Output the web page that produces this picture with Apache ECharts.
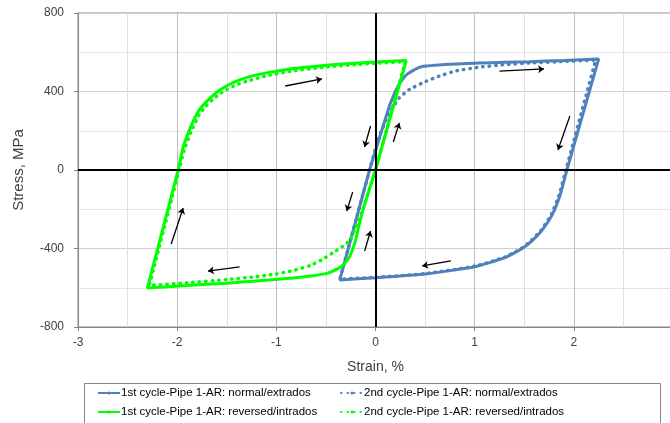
<!DOCTYPE html>
<html>
<head>
<meta charset="utf-8">
<script src="https://cdn.jsdelivr.net/npm/echarts@6/dist/echarts.min.js"></script>
<style>
html, body { margin: 0; padding: 0; background: #fff; }
#d1 { width: 670px; height: 423px; }
</style>
</head>
<body>
<div id="d1"></div>
<script>
var chart = echarts.init(document.getElementById('d1'));

var names = [
    '1st cycle-Pipe 1-AR: normal/extrados',
    '2nd cycle-Pipe 1-AR: normal/extrados',
    '1st cycle-Pipe 1-AR: reversed/intrados',
    '2nd cycle-Pipe 1-AR: reversed/intrados'
];

// strain %, stress MPa
var blue1 = [
    [-0.06, 0], [0.05, 180], [0.15, 340], [0.24, 440], [0.31, 484], [0.39, 510], [0.47, 527],
    [0.6, 534], [0.81, 540], [1.05, 545], [1.3, 549], [1.55, 552], [1.9, 558], [2.25, 565],
    [1.93, 0], [1.86, -130], [1.78, -230], [1.68, -306], [1.58, -360], [1.48, -400],
    [1.3, -448], [1.0, -493], [0.5, -530], [0, -549], [-0.36, -560], [-0.06, 0]
];
var blue2 = [
    [-0.06, 0], [0.0, 110], [0.06, 200], [0.14, 290], [0.24, 367], [0.34, 410], [0.51, 452],
    [0.64, 478], [0.81, 505], [1.05, 524], [1.3, 537], [1.55, 545], [1.9, 553], [2.22, 560],
    [1.92, 0], [1.85, -130], [1.77, -230], [1.67, -306], [1.57, -360], [1.47, -400],
    [1.3, -445], [1.0, -490], [0.5, -528], [0, -547], [-0.36, -556], [-0.2, -260], [-0.06, 0]
];
var green1 = [
    [0, 0], [-0.05, -80], [-0.1, -160], [-0.13, -210], [-0.17, -290], [-0.2, -357], [-0.26, -440],
    [-0.31, -475], [-0.37, -500], [-0.49, -527], [-0.65, -540], [-0.83, -550], [-1.2, -565],
    [-1.5, -577], [-1.9, -588], [-2.3, -601],
    [-1.99, 0], [-1.94, 115], [-1.87, 212], [-1.79, 297], [-1.73, 335], [-1.67, 365], [-1.62, 388],
    [-1.57, 408], [-1.47, 437], [-1.37, 459], [-1.27, 476], [-1.1, 495], [-0.83, 517], [-0.6, 529],
    [-0.33, 540], [0, 550], [0.31, 558], [0, 0]
];
var green2 = [
    [0, 0], [-0.07, -110], [-0.13, -204], [-0.18, -270], [-0.24, -340], [-0.3, -378], [-0.43, -422],
    [-0.55, -460], [-0.66, -487], [-0.83, -512], [-1.0, -530], [-1.25, -546], [-1.5, -558],
    [-1.9, -575], [-2.28, -588],
    [-1.98, 0], [-1.93, 100], [-1.86, 195], [-1.78, 280], [-1.72, 320], [-1.65, 355], [-1.58, 385],
    [-1.5, 410], [-1.4, 435], [-1.3, 452], [-1.1, 480], [-0.83, 505], [-0.5, 525], [-0.2, 537],
    [0, 544], [0.3, 552], [0, 0]
];

// direction arrows [from, to]
var arrows = [
    [[-0.91, 428], [-0.54, 464]],
    [[1.25, 504], [1.70, 515]],
    [[1.96, 275], [1.84, 102]],
    [[-0.05, 224], [-0.11, 117]],
    [[0.18, 143], [0.24, 240]],
    [[-0.23, -112], [-0.29, -209]],
    [[-0.11, -413], [-0.05, -311]],
    [[0.76, -463], [0.47, -489]],
    [[-1.37, -494], [-1.69, -515]],
    [[-2.06, -377], [-1.94, -194]]
];

var blue = '#4F81BD';
var green = '#00FF00';
var font = "'Liberation Sans', Arial, sans-serif";

function curve(name, data, color, dotted) {
    return {
        name: name,
        type: 'line',
        data: data,
        symbol: 'none',
        smooth: 0.15,
        animation: false,
        lineStyle: {
            color: color,
            width: dotted ? 3.5 : 3,
            type: dotted ? [0.5, 6] : 'solid',
            cap: dotted ? 'round' : 'butt'
        },
        itemStyle: { color: color }
    };
}

function legendItem(name, left, top) {
    return {
        orient: 'horizontal',
        left: left,
        top: top,
        padding: 0,
        itemWidth: 22,
        itemHeight: 4,
        textStyle: { fontSize: 11.5, color: '#000', fontFamily: font, padding: [0, 0, 0, -4] },
        data: [name]
    };
}

var series = [
    curve(names[0], blue1, blue, false),
    curve(names[1], blue2, blue, true),
    curve(names[2], green1, green, false),
    curve(names[3], green2, green, true),
    {
        type: 'line',
        data: [],
        silent: true,
        animation: false,
        markLine: {
            silent: true,
            animation: false,
            symbol: 'none',
            label: { show: false },
            lineStyle: { color: '#000', width: 2, type: 'solid' },
            data: [{ xAxis: 0 }, { yAxis: 0 }]
        }
    },
    {
        type: 'line',
        data: [],
        silent: true,
        animation: false,
        markLine: {
            silent: true,
            animation: false,
            symbol: ['none', 'arrow'],
            symbolSize: 6,
            label: { show: false },
            lineStyle: { color: '#000', width: 1.3, type: 'solid' },
            data: arrows.map(function (a) {
                return [{ coord: a[0] }, { coord: a[1] }];
            })
        }
    }
];

var option = {
    animation: false,
    textStyle: { fontFamily: font },
    grid: {
        left: 78,
        top: 13,
        right: -3,
        bottom: 96,
        outerBoundsMode: 'none',
        containLabel: false,
        show: true,
        borderColor: '#868686',
        borderWidth: 1
    },
    legend: [
        legendItem(names[0], 97, 387),
        legendItem(names[2], 97, 406),
        legendItem(names[1], 340, 387),
        legendItem(names[3], 340, 406)
    ],
    graphic: [{
        type: 'rect',
        shape: { x: 84.5, y: 383.5, width: 576, height: 42 },
        style: { fill: 'none', stroke: '#868686', lineWidth: 1 },
        silent: true
    }],
    xAxis: {
        type: 'value',
        min: -3,
        max: 3,
        interval: 1,
        name: 'Strain, %',
        nameLocation: 'middle',
        nameGap: 33,
        nameTextStyle: { fontSize: 14, color: '#404040', fontFamily: font },
        axisLine: { onZero: false, lineStyle: { color: '#868686' } },
        axisTick: { show: true, length: 4, lineStyle: { color: '#868686' } },
        axisLabel: { fontSize: 12, color: '#404040', margin: 10, showMaxLabel: false },
        splitLine: { show: true, lineStyle: { color: '#BDBDBD' } },
        minorTick: { show: false, splitNumber: 2 },
        minorSplitLine: { show: true, lineStyle: { color: '#E0E0E0' } }
    },
    yAxis: {
        type: 'value',
        min: -800,
        max: 800,
        interval: 400,
        name: 'Stress, MPa',
        nameLocation: 'middle',
        nameGap: 52,
        nameTextStyle: { fontSize: 15, color: '#404040', fontFamily: font },
        axisLine: { show: true, onZero: false, lineStyle: { color: '#868686' } },
        axisTick: { show: true, length: 4, lineStyle: { color: '#868686' } },
        axisLabel: { fontSize: 12, color: '#404040', margin: 14 },
        splitLine: { show: true, lineStyle: { color: '#D0D0D0' } },
        minorTick: { show: false, splitNumber: 2 },
        minorSplitLine: { show: true, lineStyle: { color: '#E3E3E3' } }
    },
    series: series
};

chart.setOption(option);
</script>
</body>
</html>
